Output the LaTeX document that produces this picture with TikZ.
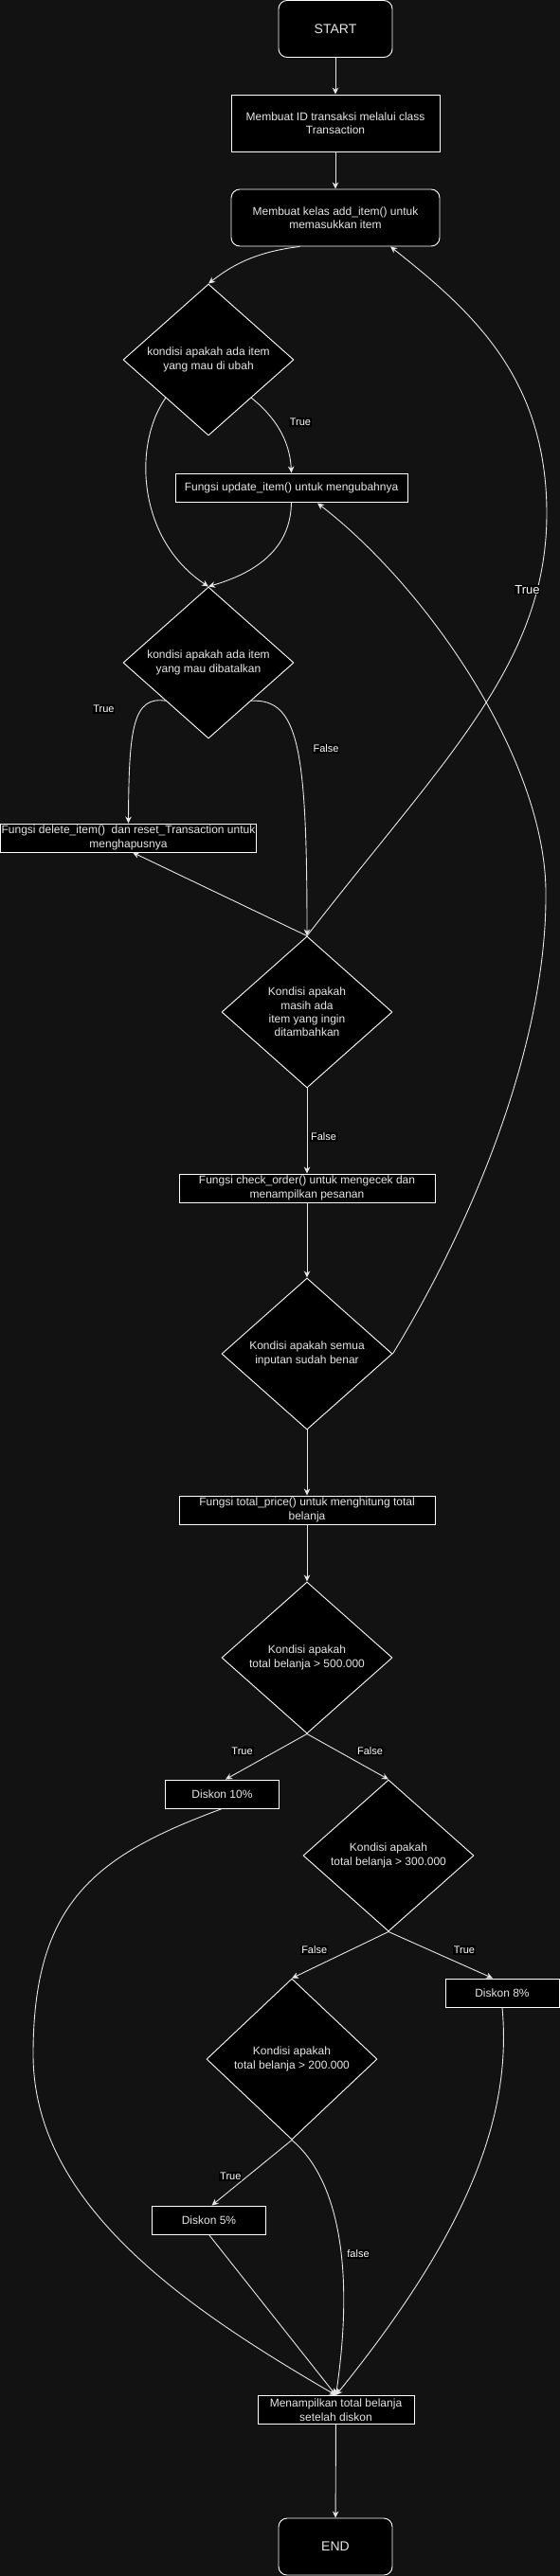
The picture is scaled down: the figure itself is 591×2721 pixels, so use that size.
\documentclass[tikz,border=0pt]{standalone}
\usepackage{fontspec}
\setmainfont{Liberation Sans}
\usetikzlibrary{shapes.geometric,arrows.meta,calc}
\definecolor{bgc}{HTML}{121212}
\definecolor{txtc}{HTML}{E6E6E6}
\definecolor{edgec}{HTML}{E6E6E6}
\begin{document}
\begin{tikzpicture}[x=1pt,y=-1pt,
  base/.style={draw=white, fill=black, text=txtc, font=\fontsize{12}{14.4}\selectfont, align=center, inner sep=0pt, line width=0.9pt},
  proc/.style={base, rectangle, minimum width=#1, minimum height=30},
  rproc/.style={base, rectangle, rounded corners=9pt, minimum width=#1, minimum height=60},
  dec/.style={base, diamond, aspect=1.125, minimum width=180, minimum height=#1},
  dec/.default=160,
  edge/.style={draw=edgec, line width=0.9pt, -{Stealth[length=7pt,width=6.5pt,inset=2.2pt]}},
  lbl/.style={fill=black, text=white, font=\fontsize{11}{13}\selectfont, inner sep=0.8pt},
  biglbl/.style={lbl, font=\fontsize{13}{15}\selectfont},
]
\useasboundingbox (0,0) rectangle (591,2721);
\fill[bgc] (0,0) rectangle (591,2721);

% nodes
\node[rproc=120, font=\fontsize{14}{16}\selectfont] (start) at (354,30.5) {START};
\node[proc=220, minimum height=60] (idb) at (354,130) {Membuat ID transaksi melalui class\\Transaction};
\node[rproc=220] (add) at (354,230) {Membuat kelas add\_item() untuk\\memasukkan item};
\node[dec] (d1) at (220,380) {kondisi apakah ada item\\yang mau di ubah};
\node[proc=245] (upd) at (307.5,515) {Fungsi update\_item() untuk mengubahnya};
\node[dec] (d2) at (220,700) {kondisi apakah ada item\\yang mau dibatalkan};
\node[proc=270] (del) at (135.5,885) {Fungsi delete\_item() \ dan reset\_Transaction untuk\\menghapusnya};
\node[dec] (d3) at (324,1069) {Kondisi apakah\\masih ada\\item yang ingin\\ditambahkan};
\node[proc=270] (chk) at (324,1255) {Fungsi check\_order() untuk mengecek dan\\menampilkan pesanan};
\node[dec] (d4) at (324,1430) {Kondisi apakah semua\\inputan sudah benar};
\node[proc=270] (tot) at (324,1595) {Fungsi total\_price() untuk menghitung total\\belanja};
\node[dec] (d5) at (324,1751) {Kondisi apakah\\total belanja > 500.000};
\node[proc=120] (d10) at (234.5,1895) {Diskon 10\%};
\node[dec] (d6) at (410,1960) {Kondisi apakah\\total belanja > 300.000};
\node[proc=120] (d8) at (530,2105) {Diskon 8\%};
\node[dec=170] (d7) at (308,2175) {Kondisi apakah\\total belanja > 200.000};
\node[proc=120] (d5p) at (220.5,2345) {Diskon 5\%};
\node[proc=165] (fin) at (354.5,2545.5) {Menampilkan total belanja\\setelah diskon};
\node[rproc=120, font=\fontsize{14}{16}\selectfont] (end) at (354,2690) {END};

% edges
\draw[edge] (start) -- (idb);
\draw[edge] (idb) -- (add);
\draw[edge] ($(add.south)+(-37.5,0)$) .. controls (270,266) and (245,280) .. (d1.north);
\draw[edge] (d1.south east) .. controls (290,440) and (306,465) .. (upd.north);
\draw[edge] (d1.south west) .. controls (140,470) and (145,570) .. (d2.north);
\draw[edge] (upd.south) .. controls (307,580) and (270,605) .. (d2.north);
\draw[edge] (d2.south west) .. controls (140,735) and (136,770) .. (del.north);
\draw[edge] (d2.south east) .. controls (315,738) and (324,790) .. (d3.north);
\draw[edge] (d3.north) -- ($(del.south)+(4.5,0)$);
\draw[edge] (d3.north) .. controls (470,800) and (578,700) .. (577,540) .. controls (576,400) and (500,330) .. ($(add.south)+(58,0)$);
\draw[edge] (d3) -- (chk);
\draw[edge] (chk) -- (d4);
\draw[edge] (d4) -- (tot);
\draw[edge] (d4.east) .. controls (500,1290) and (578,1100) .. (576,940) .. controls (574,800) and (450,620) .. ($(upd.south)+(27.5,1)$);
\draw[edge] (tot) -- (d5);
\draw[edge] (d5.south) -- ($(d10.north)+(3.5,0)$);
\draw[edge] (d5.south) -- (d6.north);
\draw[edge] (d6.south) -- (d7.north);
\draw[edge] (d6.south) -- ($(d8.north)+(-10,0)$);
\draw[edge] (d7.south) -- ($(d5p.north)+(3,0)$);
\draw[edge] (d7.south) .. controls (355,2300) and (375,2390) .. (fin.north);
\draw[edge] (d5p.south) -- (fin.north);
\draw[edge] (d10.south) .. controls (100,1960) and (35,2010) .. (35,2170) .. controls (35,2330) and (200,2440) .. (fin.north);
\draw[edge] (d8.south) .. controls (540,2230) and (500,2350) .. (fin.north);
\draw[edge] (fin) -- (end);

% labels
\node[lbl] (l1) at (317,446) {True};
\node[lbl] (l2) at (109.5,749) {True};
\node[lbl] (l3) at (344,791) {False};
\node[biglbl] (l4) at (556.5,623) {True};
\node[lbl] (l5) at (341.5,1201) {False};
\node[lbl] (l6) at (255.6,1850) {True};
\node[lbl] (l7) at (390.5,1850) {False};
\node[lbl] (l8) at (331.7,2060) {False};
\node[lbl] (l9) at (490,2060) {True};
\node[lbl] (l10) at (243.3,2299) {True};
\node[lbl] (l11) at (378,2381) {false};
\end{tikzpicture}
\end{document}
